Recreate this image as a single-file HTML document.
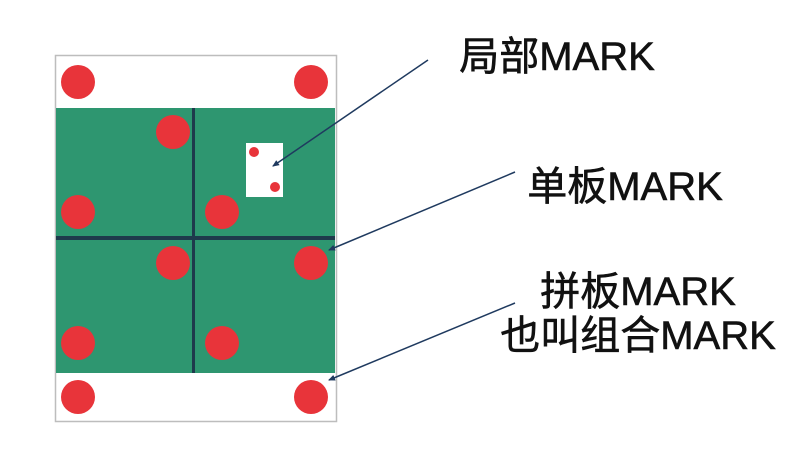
<!DOCTYPE html>
<html><head><meta charset="utf-8"><style>
html,body{margin:0;padding:0;background:#fff;}
body{width:804px;height:466px;overflow:hidden;}
text{font-family:"Liberation Sans","Noto Sans CJK SC",sans-serif;fill:#111;stroke:#111;stroke-width:0.6;}
</style></head><body>
<svg width="804" height="466" viewBox="0 0 804 466" xmlns="http://www.w3.org/2000/svg">
<defs><marker id="a" markerWidth="8" markerHeight="8" refX="6" refY="4" orient="auto" markerUnits="userSpaceOnUse"><path d="M0,1 L7,4 L0,7 z" fill="#1f3a5f"/></marker></defs>
<rect x="55.5" y="55.5" width="281" height="366" fill="#fff" stroke="#bdbdbd" stroke-width="1.5"/>
<rect x="56" y="108" width="279" height="265" fill="#2e9670"/>
<rect x="192" y="108" width="3" height="265" fill="#1e3a4c"/>
<rect x="56" y="236" width="279" height="4" fill="#1e3a4c"/>
<g fill="#e8343a">
<circle cx="78" cy="82" r="17"/><circle cx="311" cy="82" r="17"/>
<circle cx="173" cy="132" r="17"/><circle cx="78" cy="212" r="17"/><circle cx="222" cy="212" r="17"/>
<circle cx="173" cy="263" r="17"/><circle cx="311" cy="263" r="17"/>
<circle cx="78" cy="343" r="17"/><circle cx="222" cy="343" r="17"/>
<circle cx="78" cy="397" r="17"/><circle cx="311" cy="397" r="17"/>
</g>
<rect x="246" y="143" width="37" height="54" fill="#fff"/>
<circle cx="254" cy="152" r="5" fill="#e8343a"/><circle cx="275" cy="187" r="5" fill="#e8343a"/>
<g stroke="#1f3a5f" stroke-width="1.5" fill="none" marker-end="url(#a)">
<line x1="428" y1="60" x2="273" y2="166"/>
<line x1="515" y1="172" x2="329" y2="250"/>
<line x1="515" y1="303" x2="329" y2="380"/>
</g>
<text x="557" y="70" font-size="40" text-anchor="middle">局部MARK</text>
<text x="625" y="200" font-size="40" text-anchor="middle">单板MARK</text>
<text x="638" y="305" font-size="40" text-anchor="middle">拼板MARK</text>
<text x="638" y="349" font-size="40" text-anchor="middle">也叫组合MARK</text>
</svg>
</body></html>
